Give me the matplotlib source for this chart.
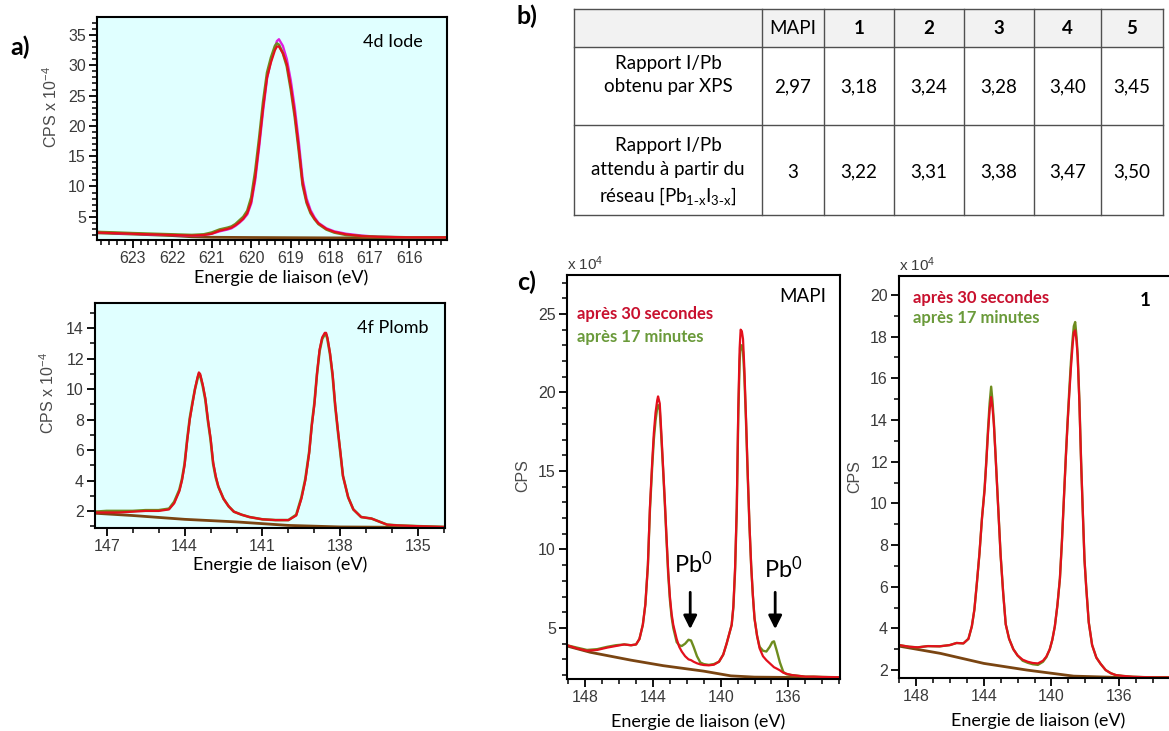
import numpy as np
import matplotlib.pyplot as plt
from matplotlib.ticker import MultipleLocator
from matplotlib.patches import Rectangle

plt.rcParams['font.family'] = ['Liberation Sans', 'DejaVu Sans']
plt.rcParams['mathtext.default'] = 'regular'
CAL = ['Lato', 'DejaVu Sans']   # calibri-like text

# ---------------- data ----------------
# a) 4d Iode
IODE_EV = [623.9, 623.4, 623.0, 622.5, 622.0, 621.5, 621.2, 621.0, 620.8, 620.6, 620.5, 620.4,
           620.3, 620.2, 620.1, 620.0, 619.9, 619.8, 619.7, 619.6, 619.5, 619.4, 619.35, 619.3,
           619.2, 619.1, 619.0, 618.9, 618.8, 618.7, 618.6, 618.5, 618.4, 618.3, 618.1, 617.9,
           617.6, 617.2, 616.8, 616.0, 615.0]
IODE_RED = [2.4, 2.3, 2.2, 2.1, 2.0, 1.9, 2.0, 2.2, 2.7, 3.0, 3.2, 3.6,
            4.1, 4.7, 5.6, 7.5, 11.5, 17.0, 23.0, 28.0, 30.5, 32.5, 33.1, 33.1,
            32.0, 30.2, 26.5, 22.0, 16.5, 10.5, 7.5, 5.8, 4.7, 3.9, 3.0, 2.5,
            2.1, 1.8, 1.7, 1.6, 1.6]
IODE_GREEN = [2.5, 2.4, 2.3, 2.2, 2.1, 2.0, 2.1, 2.4, 2.9, 3.2, 3.4, 3.8,
              4.4, 5.0, 6.0, 8.2, 12.5, 18.0, 24.0, 28.8, 31.3, 33.2, 33.6, 33.4,
              32.0, 29.8, 26.0, 21.5, 16.0, 10.2, 7.3, 5.6, 4.6, 3.8, 2.9, 2.4,
              2.0, 1.8, 1.7, 1.6, 1.6]
IODE_MAGENTA = [2.5, 2.3, 2.2, 2.1, 2.0, 1.9, 2.0, 2.2, 2.6, 2.9, 3.1, 3.5,
                4.0, 4.6, 5.4, 7.2, 11.0, 16.5, 22.5, 27.8, 30.8, 33.0, 34.0, 34.3,
                33.2, 31.0, 27.5, 23.0, 17.5, 11.2, 8.0, 6.1, 4.9, 4.0, 3.1, 2.6,
                2.2, 1.9, 1.7, 1.6, 1.6]
IODE_BG_EV = [623.9, 623.0, 622.0, 621.5, 621.0, 620.0, 618.0, 615.0]
IODE_BG = [2.35, 2.15, 1.9, 1.7, 1.62, 1.58, 1.52, 1.5]

# a) 4f Plomb
PB_EV = [147.45, 147.0, 146.5, 146.0, 145.5, 145.0, 144.6, 144.4, 144.2, 144.1, 144.0, 143.9,
         143.8, 143.7, 143.6, 143.5, 143.45, 143.4, 143.3, 143.2, 143.1, 143.0, 142.9, 142.8,
         142.7, 142.5, 142.3, 142.1, 141.8, 141.5, 141.0, 140.5, 140.0, 139.7, 139.5, 139.35,
         139.2, 139.1, 139.0, 138.9, 138.8, 138.7, 138.6, 138.55, 138.5, 138.4, 138.3, 138.2,
         138.1, 138.0, 137.9, 137.7, 137.5, 137.2, 136.8, 136.5, 136.2, 135.8, 135.0, 134.0]
PB_RED = [1.9, 1.9, 1.9, 1.95, 2.0, 2.0, 2.1, 2.5, 3.3, 4.0, 5.0, 6.6,
          8.0, 9.0, 10.0, 10.8, 11.1, 11.0, 10.3, 9.4, 8.0, 6.8, 5.2, 4.3,
          3.6, 2.8, 2.3, 1.95, 1.75, 1.6, 1.45, 1.4, 1.4, 1.7, 2.8, 4.0,
          5.8, 7.6, 9.0, 11.0, 12.6, 13.4, 13.7, 13.7, 13.4, 12.4, 11.0, 9.0,
          7.4, 5.9, 4.3, 2.9, 2.1, 1.6, 1.5, 1.3, 1.1, 1.05, 1.0, 0.95]
PB_GREEN = [1.95, 2.0, 2.0, 2.0, 2.05, 2.05, 2.15, 2.6, 3.4, 4.1, 5.1, 6.7,
            8.1, 9.1, 10.0, 10.7, 11.0, 10.9, 10.2, 9.3, 7.9, 6.7, 5.1, 4.2,
            3.6, 2.8, 2.3, 1.95, 1.75, 1.6, 1.45, 1.4, 1.4, 1.75, 2.9, 4.1,
            5.9, 7.7, 9.1, 11.0, 12.5, 13.3, 13.6, 13.6, 13.3, 12.3, 10.9, 8.9,
            7.3, 5.8, 4.3, 2.9, 2.1, 1.6, 1.5, 1.3, 1.1, 1.05, 1.0, 0.95]
PB_BG_EV = [147.45, 146.0, 144.0, 142.0, 140.0, 138.0, 136.0, 134.0]
PB_BG = [1.85, 1.7, 1.45, 1.28, 1.05, 0.95, 0.93, 0.92]

# c) MAPI
MAPI_EV = [149.08, 148.5, 147.9, 147.3, 146.7, 146.2, 145.7, 145.3, 145.0, 144.8, 144.6, 144.45,
           144.3, 144.18, 144.05, 143.95, 143.85, 143.75, 143.7, 143.6, 143.5, 143.4, 143.3, 143.2,
           143.1, 143.0, 142.9, 142.8, 142.6, 142.45, 142.3, 142.1, 141.9, 141.75, 141.6, 141.4,
           141.2, 141.0, 140.7, 140.4, 140.1, 139.85, 139.65, 139.5, 139.35, 139.25, 139.15, 139.05,
           138.96, 138.88, 138.82, 138.75, 138.68, 138.6, 138.5, 138.4, 138.3, 138.2, 138.1, 138.0,
           137.85, 137.7, 137.5, 137.3, 137.1, 136.95, 136.85, 136.7, 136.5, 136.3, 136.1, 135.8,
           135.4, 135.0, 134.5, 134.0, 133.5, 132.95]
MAPI_RED = [3.9, 3.7, 3.55, 3.6, 3.75, 3.85, 3.95, 3.9, 3.95, 4.3, 5.2, 6.5,
            9.0, 12.7, 15.5, 17.4, 18.7, 19.5, 19.75, 19.3, 17.3, 15.2, 13.1, 10.8,
            8.6, 7.0, 5.9, 5.2, 4.3, 3.8, 3.5, 3.2, 3.0, 2.95, 2.85, 2.75,
            2.68, 2.64, 2.62, 2.66, 2.85, 3.3, 4.0, 4.6, 5.2, 6.4, 8.8, 12.7,
            19.0, 22.8, 24.0, 23.9, 23.4, 21.5, 18.3, 14.8, 11.6, 9.0, 7.1, 5.6,
            4.5, 3.7, 3.2, 2.95, 2.75, 2.6, 2.5, 2.42, 2.3, 2.15, 2.08, 2.0,
            1.95, 1.9, 1.9, 1.88, 1.87, 1.86]
MAPI_GREEN = [3.9, 3.75, 3.6, 3.65, 3.8, 3.9, 3.95, 3.9, 3.95, 4.3, 5.2, 6.5,
              9.0, 12.5, 15.2, 17.0, 18.2, 19.0, 19.2, 18.9, 17.0, 15.0, 12.9, 10.6,
              8.4, 6.8, 5.7, 5.0, 4.1, 3.9, 3.85, 4.0, 4.25, 4.2, 3.8, 3.2,
              2.8, 2.7, 2.65, 2.7, 2.85, 3.3, 4.0, 4.6, 5.2, 6.3, 8.6, 12.4,
              18.5, 22.0, 23.0, 23.0, 22.6, 21.0, 18.0, 14.6, 11.5, 9.0, 7.1, 5.6,
              4.5, 3.8, 3.55, 3.5, 3.8, 4.1, 4.15, 3.6, 2.8, 2.2, 2.05, 2.0,
              1.95, 1.9, 1.9, 1.88, 1.87, 1.86]
MAPI_BG_EV = [149.08, 147.7, 145.3, 143.4, 141.0, 139.4, 138.0, 136.0, 132.95]
MAPI_BG = [3.85, 3.45, 2.95, 2.6, 2.25, 1.95, 1.87, 1.85, 1.85]

# c) compound 1
S1_EV = [149.0, 148.4, 147.9, 147.3, 146.6, 146.0, 145.6, 145.2, 144.9, 144.7, 144.55, 144.4,
         144.25, 144.1, 143.95, 143.85, 143.75, 143.65, 143.56, 143.48, 143.4, 143.3, 143.2, 143.1,
         143.0, 142.85, 142.7, 142.5, 142.25, 142.0, 141.7, 141.4, 141.1, 140.8, 140.5, 140.3,
         140.1, 139.95, 139.8, 139.65, 139.5, 139.38, 139.25, 139.15, 139.05, 138.95, 138.85, 138.75,
         138.68, 138.6, 138.52, 138.45, 138.35, 138.25, 138.15, 138.05, 137.95, 137.8, 137.6, 137.35,
         137.1, 136.8, 136.5, 136.2, 135.8, 135.2, 134.5, 133.8, 133.07, 132.5]
S1_RED = [3.2, 3.12, 3.09, 3.15, 3.14, 3.2, 3.3, 3.28, 3.5, 4.1, 4.9, 6.2,
          7.6, 9.3, 10.6, 11.9, 13.3, 14.5, 15.1, 14.6, 13.8, 12.3, 10.7, 9.1,
          7.5, 5.7, 4.2, 3.5, 3.0, 2.7, 2.5, 2.4, 2.34, 2.32, 2.45, 2.65,
          3.0, 3.45, 4.1, 5.1, 6.4, 8.2, 10.5, 12.2, 13.8, 15.2, 16.5, 17.6,
          18.2, 18.3, 17.8, 17.0, 14.8, 12.0, 9.6, 7.3, 6.0, 4.3, 3.2, 2.6,
          2.3, 2.0, 1.85, 1.76, 1.72, 1.68, 1.66, 1.65, 1.65, 1.65]
S1_GREEN = [3.2, 3.12, 3.09, 3.15, 3.14, 3.2, 3.3, 3.28, 3.5, 4.1, 4.9, 6.2,
            7.6, 9.3, 10.7, 12.0, 13.5, 14.8, 15.6, 14.9, 13.9, 12.3, 10.7, 9.1,
            7.5, 5.7, 4.2, 3.5, 3.0, 2.7, 2.45, 2.35, 2.28, 2.25, 2.4, 2.62,
            3.0, 3.45, 4.1, 5.1, 6.4, 8.2, 10.5, 12.3, 13.9, 15.4, 16.8, 17.9,
            18.5, 18.7, 18.0, 17.1, 14.9, 12.0, 9.6, 7.3, 6.0, 4.3, 3.2, 2.6,
            2.3, 2.0, 1.85, 1.76, 1.72, 1.68, 1.66, 1.65, 1.65, 1.65]
S1_BG_EV = [149.0, 146.55, 143.99, 141.44, 138.69, 136.14, 132.5]
S1_BG = [3.15, 2.8, 2.32, 2.0, 1.71, 1.65, 1.65]

# b) table
TABLE_COLS = ['MAPI', '1', '2', '3', '4', '5']
ROW_LABELS = ['Rapport I/Pb\nobtenu par XPS',
              'Rapport I/Pb\nattendu à partir du\nréseau [Pb$_{1\\text{-}x}$I$_{3\\text{-}x}$]']
XPS_RATIO = ['2,97', '3,18', '3,24', '3,28', '3,40', '3,45']
EXPECTED_RATIO = ['3', '3,22', '3,31', '3,38', '3,47', '3,50']

RED = '#e3101c'
GREEN = '#6e8c1e'
MAGENTA = '#e01ee0'
BROWN = '#7a4512'
TICKCOL = '#3a3a3a'

W, H = 1169, 731
fig = plt.figure(figsize=(W / 100, H / 100), dpi=100)


def px_axes(l, t, r, b):
    return fig.add_axes([l / W, 1 - b / H, (r - l) / W, (b - t) / H])


def style(ax, xlim, ylim, xmaj, xmin, ymaj, ymin, bg='white'):
    ax.set_xlim(*xlim)
    ax.set_ylim(*ylim)
    ax.set_facecolor(bg)
    ax.xaxis.set_major_locator(MultipleLocator(xmaj))
    ax.xaxis.set_minor_locator(MultipleLocator(xmin))
    ax.yaxis.set_major_locator(MultipleLocator(ymaj))
    ax.yaxis.set_minor_locator(MultipleLocator(ymin))
    ax.tick_params(which='major', direction='out', length=6, width=1.3, labelsize=11.5,
                   labelcolor=TICKCOL, pad=2)
    ax.tick_params(which='minor', direction='out', length=3.5, width=1.1)
    for s in ax.spines.values():
        s.set_linewidth(1.5)


# ---------------- a) top : 4d Iode ----------------
ax1 = px_axes(97, 17, 447, 240)
style(ax1, (623.9, 615.05), (1.17, 37.97), 1, 0.2, 5, 1, bg='#e0ffff')
ax1.plot(IODE_BG_EV, IODE_BG, color=BROWN, lw=2)
ax1.plot(IODE_EV, IODE_MAGENTA, color=MAGENTA, lw=1.7)
ax1.plot(IODE_EV, IODE_GREEN, color=GREEN, lw=1.9)
ax1.plot(IODE_EV, IODE_RED, color=RED, lw=1.6)
ax1.text(0.846, 0.888, '4d Iode', transform=ax1.transAxes, ha='center', va='center',
         fontsize=13, family=CAL)
ax1.set_xlabel('Energie de liaison (eV)', fontsize=13, family=CAL)
ax1.xaxis.set_label_coords(0.526, -0.17)
ax1.xaxis.label.set_va('center')
ax1.set_ylabel('CPS x 10$^{-4}$', fontsize=11.5, color='#4a4a4a')
ax1.yaxis.set_label_coords(-0.106, 0.596)

# ---------------- a) bottom : 4f Plomb ----------------
ax2 = px_axes(95, 303, 445, 528)
style(ax2, (147.45, 133.97), (0.88, 15.66), 3, 1, 2, 1, bg='#e0ffff')
ax2.plot(PB_BG_EV, PB_BG, color=BROWN, lw=2)
ax2.plot(PB_EV, PB_GREEN, color=GREEN, lw=1.9)
ax2.plot(PB_EV, PB_RED, color=RED, lw=1.6)
ax2.text(0.851, 0.889, '4f Plomb', transform=ax2.transAxes, ha='center', va='center',
         fontsize=13, family=CAL)
ax2.set_xlabel('Energie de liaison (eV)', fontsize=13, family=CAL)
ax2.xaxis.set_label_coords(0.53, -0.164)
ax2.xaxis.label.set_va('center')
ax2.set_ylabel('CPS x 10$^{-4}$', fontsize=11.5, color='#4a4a4a')
ax2.yaxis.set_label_coords(-0.109, 0.6)

# ---------------- c) left : MAPI ----------------
ax3 = px_axes(567, 275, 840, 679)
style(ax3, (149.08, 132.95), (1.75, 27.48), 4, 1, 5, 1)
ax3.plot(MAPI_BG_EV, MAPI_BG, color=BROWN, lw=2)
ax3.plot(MAPI_EV, MAPI_GREEN, color=GREEN, lw=1.7)
ax3.plot(MAPI_EV, MAPI_RED, color=RED, lw=1.6)
ax3.text(0.864, 0.946, 'MAPI', transform=ax3.transAxes, ha='center', va='center',
         fontsize=13.5, family=CAL)
ax3.text(0.037, 0.903, 'après 30 secondes', transform=ax3.transAxes, ha='left', va='center',
         fontsize=12, family=CAL, fontweight='bold', color='#c8102e')
ax3.text(0.037, 0.847, 'après 17 minutes', transform=ax3.transAxes, ha='left', va='center',
         fontsize=12, family=CAL, fontweight='bold', color='#6a9a3a')
for x0, xt, yt in [(141.8, 141.6, 9.1), (136.78, 136.3, 8.8)]:
    ax3.annotate('', xy=(x0, 4.75), xytext=(x0, 7.45),
                 arrowprops=dict(arrowstyle='-|>', color='black', lw=2, mutation_scale=20))
    ax3.text(xt, yt, 'Pb$^{0}$', ha='center', va='center', fontsize=17, family=CAL)
ax3.text(0.0, 1.005, 'x 10$^{4}$', transform=ax3.transAxes, ha='left', va='bottom',
         fontsize=11, color=TICKCOL)
ax3.set_xlabel('Energie de liaison (eV)', fontsize=13, family=CAL)
ax3.xaxis.set_label_coords(0.48, -0.106)
ax3.xaxis.label.set_va('center')
ax3.set_ylabel('CPS', fontsize=11.5, color='#4a4a4a')
ax3.yaxis.set_label_coords(-0.1355, 0.504)

# ---------------- c) right : 1 ----------------
ax4 = px_axes(899, 276, 1178.5, 678)
style(ax4, (149.0, 132.5), (1.62, 20.91), 4, 1, 2, 1)
ax4.plot(S1_BG_EV, S1_BG, color=BROWN, lw=2)
ax4.plot(S1_EV, S1_GREEN, color=GREEN, lw=1.7)
ax4.plot(S1_EV, S1_RED, color=RED, lw=1.6)
ax4.text(0.88, 0.94, '1', transform=ax4.transAxes, ha='center', va='center',
         fontsize=13.5, family=CAL, fontweight='bold')
ax4.text(0.05, 0.945, 'après 30 secondes', transform=ax4.transAxes, ha='left', va='center',
         fontsize=12, family=CAL, fontweight='bold', color='#c8102e')
ax4.text(0.05, 0.896, 'après 17 minutes', transform=ax4.transAxes, ha='left', va='center',
         fontsize=12, family=CAL, fontweight='bold', color='#6a9a3a')
ax4.text(0.0, 1.005, 'x 10$^{4}$', transform=ax4.transAxes, ha='left', va='bottom',
         fontsize=11, color=TICKCOL)
ax4.set_xlabel('Energie de liaison (eV)', fontsize=13, family=CAL)
ax4.xaxis.set_label_coords(0.497, -0.107)
ax4.xaxis.label.set_va('center')
ax4.set_ylabel('CPS', fontsize=11.5, color='#4a4a4a')
ax4.yaxis.set_label_coords(-0.132, 0.5)

# ---------------- overlay: panel letters and table b) ----------------
ov = fig.add_axes([0, 0, 1, 1])
ov.set_xlim(0, W)
ov.set_ylim(H, 0)
ov.axis('off')
ov.patch.set_alpha(0)

for lab, x, y in [('a)', 20, 47), ('b)', 527, 16), ('c)', 527, 282)]:
    ov.text(x, y, lab, ha='center', va='center', fontsize=18, fontweight='bold', family=CAL)

col_x = [574, 762, 824, 894, 964, 1034, 1101, 1163]
row_y = [9, 47, 125, 215]
ov.add_patch(Rectangle((col_x[0], row_y[0]), col_x[-1] - col_x[0], row_y[1] - row_y[0],
                       facecolor='#f2f2f2', edgecolor='none'))
for x in col_x:
    ov.plot([x, x], [row_y[0], row_y[-1]], color='#505050', lw=1)
for y in row_y:
    ov.plot([col_x[0], col_x[-1]], [y, y], color='#505050', lw=1)

for i, c in enumerate(TABLE_COLS):
    cx = (col_x[i + 1] + col_x[i + 2]) / 2
    ov.text(cx, (row_y[0] + row_y[1]) / 2, c, ha='center', va='center', fontsize=13.5,
            family=CAL, fontweight='normal' if c == 'MAPI' else 'bold')
    ov.text(cx, 87, XPS_RATIO[i], ha='center', va='center', fontsize=13.5, family=CAL)
    ov.text(cx, 172, EXPECTED_RATIO[i], ha='center', va='center', fontsize=13.5, family=CAL)
lx = (col_x[0] + col_x[1]) / 2
ov.text(lx, 75, ROW_LABELS[0], ha='center', va='center', fontsize=13.5, family=CAL,
        linespacing=1.4)
ov.text(lx, 172, ROW_LABELS[1], ha='center', va='center', fontsize=13.5, family=CAL,
        linespacing=1.45)

fig.savefig('out.png', dpi=100)
